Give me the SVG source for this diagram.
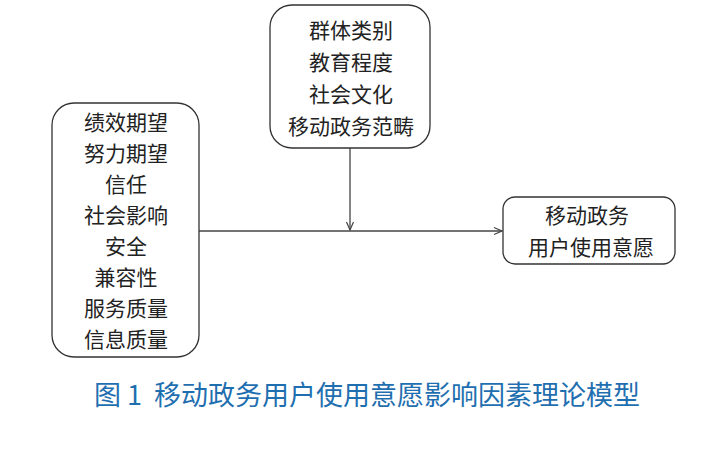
<svg xmlns="http://www.w3.org/2000/svg" width="703" height="460" viewBox="0 0 703 460">
<style>
.box{fill:#fff;stroke:#333;stroke-width:1.3}
.t{font-family:"Noto Sans CJK SC","Noto Sans",sans-serif;font-size:21px;fill:#222;text-anchor:middle}
.c{stroke:#444;stroke-width:1.3;fill:none}
.cap{font-family:"Noto Sans CJK SC","Noto Sans",sans-serif;font-size:27px;fill:#1f6fb0;text-anchor:middle;white-space:pre}
</style>
<defs>
<marker id="ah" markerWidth="10" markerHeight="10" refX="9" refY="5" orient="auto" markerUnits="userSpaceOnUse">
<path d="M1,1.5 L9,5 L1,8.5" fill="none" stroke="#444" stroke-width="1.2"/>
</marker>
</defs>
<rect width="703" height="460" fill="#fff"/>
<g id="connectors">
<line class="c" x1="199" y1="231" x2="502" y2="231" marker-end="url(#ah)"/>
<line class="c" x1="350" y1="148" x2="350" y2="230" marker-end="url(#ah)"/>
</g>
<g id="left">
<rect class="box" x="52" y="103" width="147" height="254" rx="22"/>
<text class="t" x="126" y="130">绩效期望</text>
<text class="t" x="126" y="161">努力期望</text>
<text class="t" x="126" y="192">信任</text>
<text class="t" x="126" y="223">社会影响</text>
<text class="t" x="126" y="254">安全</text>
<text class="t" x="126" y="285">兼容性</text>
<text class="t" x="126" y="316">服务质量</text>
<text class="t" x="126" y="347">信息质量</text>
</g>
<g id="top">
<rect class="box" x="270" y="5" width="160" height="143" rx="22"/>
<text class="t" x="351" y="38">群体类别</text>
<text class="t" x="351" y="70">教育程度</text>
<text class="t" x="351" y="102">社会文化</text>
<text class="t" x="351" y="134">移动政务范畴</text>
</g>
<g id="right">
<rect class="box" x="503" y="197" width="172" height="67" rx="12"/>
<text class="t" x="587" y="223">移动政务</text>
<text class="t" x="591" y="255">用户使用意愿</text>
</g>
<text class="cap" x="367" y="405">图 1  移动政务用户使用意愿影响因素理论模型</text>
</svg>
